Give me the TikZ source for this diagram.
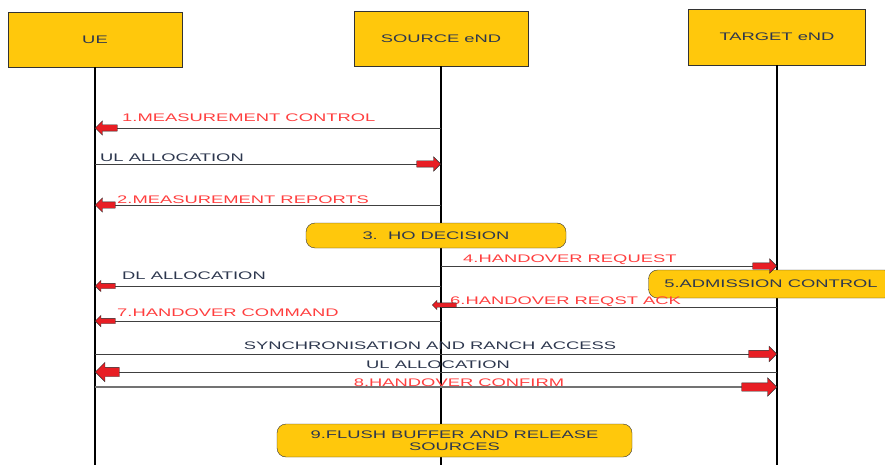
\documentclass[tikz,border=0pt]{standalone}
\usepackage{fontspec}
\setmainfont[FakeStretch=1.67]{Liberation Sans}
\usetikzlibrary{positioning}
\usetikzlibrary{shapes.arrows}
\definecolor{boxyellow}{RGB}{255,200,12}
\definecolor{msgred}{RGB}{255,62,62}
\definecolor{arrred}{RGB}{232,30,36}
\definecolor{txtdark}{RGB}{45,55,78}
\newcommand{\lblsize}{\fontsize{11}{12}\selectfont}

\begin{document}
\begin{tikzpicture}[x=1pt, y=-1pt,
entity/.style={draw=black!80, fill=boxyellow, minimum width=174pt, minimum height=55pt, text=txtdark, font=\lblsize},
action/.style={draw=black!80, fill=boxyellow, rounded corners=9pt, text=txtdark, font=\lblsize, align=center},
life/.style={line width=1.2pt},
msg/.style={draw=black!75, line width=0.8pt},
redlbl/.style={text=msgred, anchor=base west, inner sep=0pt, font=\lblsize},
blklbl/.style={text=txtdark, anchor=base west, inner sep=0pt, font=\lblsize},
blk/.style={single arrow, draw=black!85, fill=arrred, inner sep=0pt, text height=3pt, text depth=3pt, text width=0pt, single arrow head extend=4pt, minimum height=22pt, anchor=tip},
blkleft/.style={blk, shape border rotate=180}
]
\useasboundingbox (0,0) rectangle (885,465);

%create nodes
\node[entity] (ue) at (95,39.5) {UE};
\node[entity] (src) at (441,38.5) {SOURCE eND};
\node[entity, minimum width=177pt, minimum height=56pt] (tgt) at (777,37) {TARGET eND};

\coordinate (ueend) at (95,465);
\coordinate (srcend) at (441,465);
\coordinate (tgtend) at (777,465);

%message end points
\coordinate (s1) at (441,128);  \coordinate (u1) at (95,128);
\coordinate (u2) at (95,164);   \coordinate (s2) at (441,164);
\coordinate (s3) at (441,205);  \coordinate (u3) at (95,205);
\coordinate (s4) at (441,266);  \coordinate (t4) at (777,266);
\coordinate (s5) at (441,286);  \coordinate (u5) at (95,286);
\coordinate (t6) at (777,307);  \coordinate (s6) at (441,307);
\coordinate (s7) at (441,321);  \coordinate (u7) at (95,321);
\coordinate (u8) at (95,354);   \coordinate (t8) at (777,354);
\coordinate (t9) at (777,372);  \coordinate (u9) at (95,372);
\coordinate (u10) at (95,387);  \coordinate (t10) at (777,387);

%draw lifelines
\draw[life] (ue.south) -- (ueend);
\draw[life] (src.south) -- (srcend);
\draw[life] (tgt.south) -- (tgtend);

%action boxes
\node[action, minimum width=260pt, minimum height=25pt] (hodec) at (436,235.5) {3.\ \ HO DECISION};
\node[action, minimum width=245pt, minimum height=28pt] (admit) at (771,284) {5.ADMISSION CONTROL};
\node[action, minimum width=355pt, minimum height=33pt] (flush) at (454.5,440.5) {9.FLUSH BUFFER AND RELEASE\\SOURCES};

%draw messages
\draw[msg] (s1) -- (u1);
\draw[msg] (u2) -- (s2);
\draw[msg] (s3) -- (u3);
\draw[msg] (s4) -- (t4);
\draw[msg] (s5) -- (u5);
\draw[msg] (t6) -- (s6);
\draw[msg] (s7) -- (u7);
\draw[msg] (u8) -- (t8);
\draw[msg] (t9) -- (u9);
\draw[msg, draw=black!55, line width=1.2pt] (u10) -- (t10);

%labels
\node[redlbl] (l1) at (122,122) {1.MEASUREMENT CONTROL};
\node[blklbl] (l2) at (100,162) {UL ALLOCATION};
\node[redlbl] (l3) at (117,203) {2.MEASUREMENT REPORTS};
\node[redlbl] (l4) at (463,262) {4.HANDOVER REQUEST};
\node[blklbl] (l5) at (122,279) {DL ALLOCATION};
\node[redlbl] (l6) at (450,304) {6.HANDOVER REQST ACK};
\node[redlbl] (l7) at (117,316) {7.HANDOVER COMMAND};
\node[blklbl, anchor=base] (l8) at (430,349) {SYNCHRONISATION AND RANCH ACCESS};
\node[blklbl, anchor=base] (l9) at (438,368) {UL ALLOCATION};
\node[redlbl, anchor=base] (l10) at (459,386) {8.HANDOVER CONFIRM};

%block arrows
\node[blkleft] (a1) at (u1) {};
\node[blk, minimum height=24pt] (a2) at (s2) {};
\node[blkleft, minimum height=20pt] (a3) at (u3) {};
\node[blk, minimum height=24pt] (a4) at (t4) {};
\node[blkleft, minimum height=20pt, text height=2.5pt, text depth=2.5pt, single arrow head extend=3pt] (a5) at (u5) {};
\node[blkleft, minimum height=24pt, text height=2pt, text depth=2pt, single arrow head extend=2.5pt] (a6) at ([xshift=-9pt,yshift=2pt]s6) {};
\node[blkleft, minimum height=20pt, text height=2.5pt, text depth=2.5pt, single arrow head extend=3pt] (a7) at (u7) {};
\node[blk, minimum height=28pt, text height=3.5pt, text depth=3.5pt, single arrow head extend=4pt] (a8) at (t8) {};
\node[blkleft, minimum height=24pt, text height=4.5pt, text depth=4.5pt, single arrow head extend=5pt] (a9) at (u9) {};
\node[blk, minimum height=35pt, text height=4pt, text depth=4pt, single arrow head extend=5pt] (a10) at (t10) {};

\end{tikzpicture}
\end{document}
